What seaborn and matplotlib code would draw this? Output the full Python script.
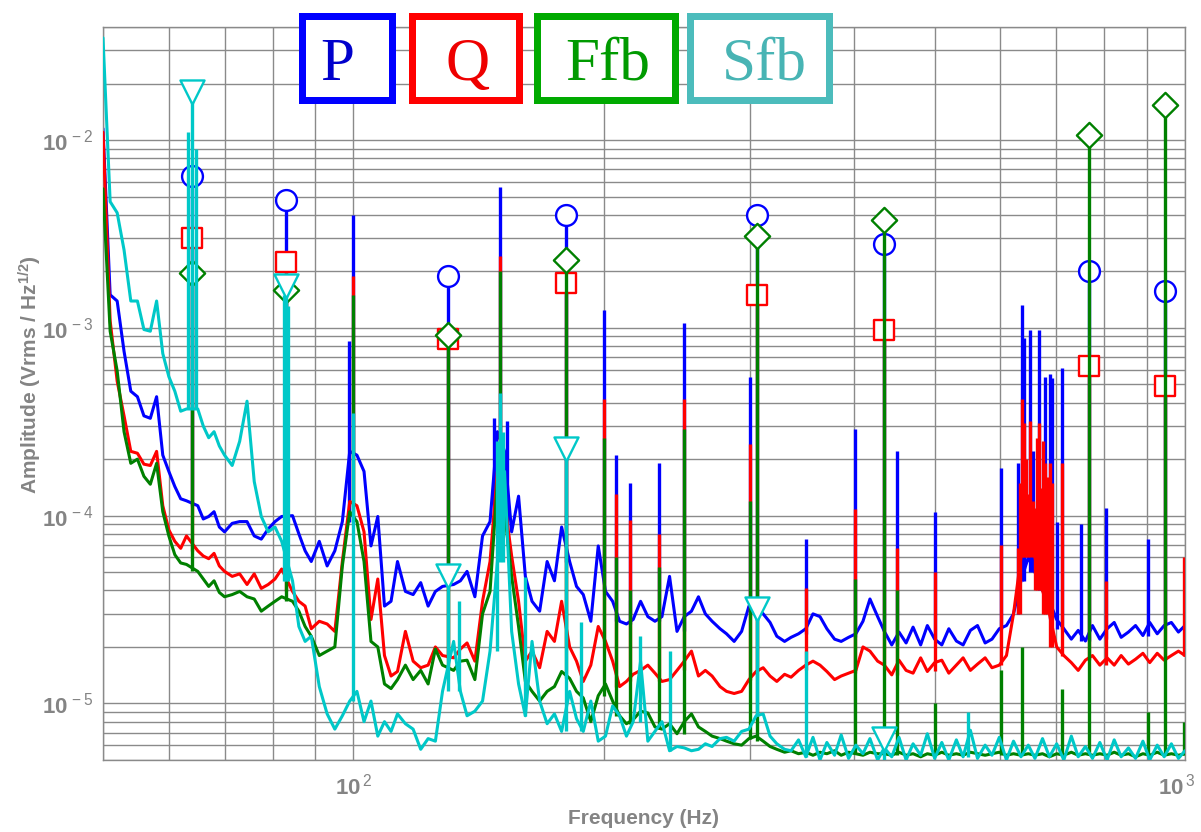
import numpy as np
import matplotlib
matplotlib.use("Agg")
import matplotlib.pyplot as plt
import matplotlib.transforms as mtransforms
import seaborn as sns
from matplotlib.patches import Rectangle
from matplotlib.ticker import LogLocator, NullFormatter, FixedLocator, FixedFormatter

# ---------------------------------------------------------------- data
# shared frequency axis of the broadband traces (Hz)
freq_hz = [
    50, 51, 52, 53, 54, 55, 56, 57, 58, 59,
    60, 61, 62, 63, 65, 66, 67, 68, 69, 70,
    71.5, 73, 74.5, 76, 77.5, 79, 80.5, 82, 84.5, 86,
    87.5, 89, 91, 93, 95, 97, 99, 101, 103, 105,
    107, 109, 111, 113, 115.5, 118, 120.5, 123, 125.5, 128,
    132, 134.5, 137, 140, 143, 146, 149, 152, 155, 158,
    161, 164, 167.5, 171, 174.5, 178, 182, 185.5, 189, 193,
    197, 201, 205, 209, 213, 217, 221.5, 226, 230.5, 235,
    240, 245, 250, 255, 260, 265, 270, 276, 281, 287,
    293, 299, 305, 311, 317, 323, 330, 336, 343, 350,
    357, 364, 371, 379, 386, 394, 402, 410, 418, 427,
    435, 444, 453, 462, 471, 481, 490, 500, 510, 520,
    531, 541, 552, 563, 575, 586, 598, 610, 622, 635,
    648, 660, 674, 687, 701, 715, 730, 744, 759, 774,
    790, 806, 822, 838, 855, 872, 890, 907, 926, 944,
    963, 982, 1000,
]

# broadband amplitude of each channel (Vrms/sqrt(Hz))
p_amp = [
    1.15e-2, 1.5e-3, 1.39e-3, 7.5e-4, 4.6e-4, 4.3e-4, 3.4e-4, 3.3e-4, 4.3e-4, 2.1e-4,
    1.72e-4, 1.43e-4, 1.23e-4, 1.2e-4, 1.13e-4, 9.6e-5, 9.9e-5, 1.05e-4, 8.7e-5, 8.2e-5,
    9.1e-5, 9.3e-5, 9.3e-5, 7.8e-5, 7.5e-5, 8.5e-5, 9.3e-5, 9.9e-5, 1.0e-4, 8.0e-5,
    6.5e-5, 5.7e-5, 7.3e-5, 5.4e-5, 6.5e-5, 9.3e-5, 2.2e-4, 2.1e-4, 1.72e-4, 6.9e-5,
    9.9e-5, 3.3e-5, 3.5e-5, 5.7e-5, 3.95e-5, 3.8e-5, 4.4e-5, 3.3e-5, 3.95e-5, 4.2e-5,
    4.3e-5, 4.5e-5, 5.05e-5, 3.7e-5, 7.8e-5, 9.3e-5, 2.8e-4, 2.2e-4, 8.2e-5, 1.27e-4,
    4.75e-5, 3.5e-5, 3.1e-5, 5.7e-5, 4.5e-5, 8.7e-5, 5.7e-5, 4.2e-5, 3.8e-5, 2.74e-5,
    6.9e-5, 3.95e-5, 3.5e-5, 2.74e-5, 2.65e-5, 2.8e-5, 3.5e-5, 2.9e-5, 2.74e-5, 2.9e-5,
    4.75e-5, 2.42e-5, 2.9e-5, 3.1e-5, 3.7e-5, 3.0e-5, 2.74e-5, 2.5e-5, 2.35e-5, 2.14e-5,
    2.42e-5, 3.3e-5, 3.3e-5, 3.0e-5, 2.7e-5, 2.28e-5, 2.14e-5, 2.25e-5, 2.35e-5, 2.5e-5,
    3.0e-5, 2.9e-5, 2.5e-5, 2.2e-5, 2.14e-5, 2.25e-5, 2.35e-5, 2.74e-5, 3.6e-5, 2.9e-5,
    2.42e-5, 2.05e-5, 2.4e-5, 2.1e-5, 2.55e-5, 2.05e-5, 2.6e-5, 2.2e-5, 2.05e-5, 2.5e-5,
    2.15e-5, 2.05e-5, 2.45e-5, 2.6e-5, 2.1e-5, 2.2e-5, 2.5e-5, 2.6e-5, 3.0e-5, 4.5e-5,
    6.0e-5, 5.0e-5, 4.0e-5, 3.5e-5, 2.8e-5, 2.5e-5, 2.2e-5, 2.45e-5, 2.15e-5, 2.6e-5,
    2.2e-5, 2.5e-5, 2.7e-5, 2.25e-5, 2.4e-5, 2.6e-5, 2.3e-5, 2.7e-5, 2.35e-5, 2.6e-5,
    2.7e-5, 2.4e-5, 2.6e-5,
]
q_amp = [
    1.1e-2, 1.09e-3, 5.2e-4, 3.4e-4, 2.2e-4, 2.15e-4, 1.88e-4, 1.85e-4, 2.2e-4, 1.13e-4,
    8.4e-5, 7.3e-5, 6.7e-5, 7.8e-5, 6.5e-5, 6.1e-5, 5.9e-5, 6.3e-5, 5.4e-5, 5.05e-5,
    4.75e-5, 4.9e-5, 4.3e-5, 4.9e-5, 4.1e-5, 4.3e-5, 4.6e-5, 5.2e-5, 3.95e-5, 3.5e-5,
    3.3e-5, 2.5e-5, 2.74e-5, 2.65e-5, 2.42e-5, 5.7e-5, 1.19e-4, 1.13e-4, 8.2e-5, 2.8e-5,
    4.6e-5, 1.8e-5, 1.4e-5, 1.48e-5, 2.42e-5, 1.68e-5, 1.55e-5, 1.6e-5, 2.0e-5, 1.8e-5,
    1.75e-5, 1.95e-5, 2.1e-5, 1.68e-5, 3.5e-5, 5.7e-5, 1.72e-4, 1.19e-4, 6.1e-5, 3.5e-5,
    1.68e-5, 1.9e-5, 1.55e-5, 2.42e-5, 2.14e-5, 3.5e-5, 2.0e-5, 1.68e-5, 1.31e-5, 1.6e-5,
    2.57e-5, 2.14e-5, 1.68e-5, 1.23e-5, 1.31e-5, 1.43e-5, 1.5e-5, 1.6e-5, 1.45e-5, 1.31e-5,
    1.34e-5, 1.5e-5, 1.68e-5, 1.9e-5, 1.4e-5, 1.5e-5, 1.4e-5, 1.23e-5, 1.16e-5, 1.13e-5,
    1.16e-5, 1.34e-5, 1.48e-5, 1.55e-5, 1.4e-5, 1.31e-5, 1.43e-5, 1.38e-5, 1.5e-5, 1.6e-5,
    1.68e-5, 1.6e-5, 1.48e-5, 1.34e-5, 1.4e-5, 1.45e-5, 1.5e-5, 2.0e-5, 1.9e-5, 1.68e-5,
    1.6e-5, 1.42e-5, 1.7e-5, 1.5e-5, 1.45e-5, 1.75e-5, 1.48e-5, 1.65e-5, 1.7e-5, 1.45e-5,
    1.6e-5, 1.75e-5, 1.5e-5, 1.62e-5, 1.75e-5, 1.55e-5, 1.6e-5, 1.8e-5, 3.0e-5, 6.0e-5,
    8.0e-5, 6.0e-5, 4.0e-5, 3.0e-5, 2.0e-5, 1.8e-5, 1.65e-5, 1.5e-5, 1.7e-5, 1.8e-5,
    1.6e-5, 1.75e-5, 1.6e-5, 1.8e-5, 1.62e-5, 1.72e-5, 1.85e-5, 1.65e-5, 1.85e-5, 1.7e-5,
    1.8e-5, 1.9e-5, 1.8e-5,
]
ffb_amp = [
    5.5e-3, 9.6e-4, 5.9e-4, 2.8e-4, 1.9e-4, 2.0e-4, 1.62e-4, 1.47e-4, 1.9e-4, 1.05e-4,
    7.8e-5, 6.2e-5, 5.6e-5, 5.5e-5, 5.05e-5, 4.6e-5, 4.2e-5, 4.5e-5, 3.9e-5, 3.7e-5,
    3.8e-5, 3.95e-5, 3.7e-5, 3.6e-5, 3.1e-5, 3.3e-5, 3.5e-5, 3.7e-5, 3.5e-5, 3.1e-5,
    2.57e-5, 2.28e-5, 1.8e-5, 1.9e-5, 2.0e-5, 5.4e-5, 1.05e-4, 9.3e-5, 5.7e-5, 2.14e-5,
    2.0e-5, 1.27e-5, 1.2e-5, 1.34e-5, 1.6e-5, 1.34e-5, 1.5e-5, 1.27e-5, 1.95e-5, 1.6e-5,
    1.5e-5, 1.68e-5, 1.7e-5, 1.34e-5, 3.0e-5, 3.95e-5, 1.52e-4, 1.05e-4, 4.75e-5, 2.57e-5,
    1.31e-5, 1.16e-5, 1.03e-5, 1.16e-5, 1.23e-5, 1.48e-5, 1.36e-5, 1.16e-5, 1.07e-5, 8.0e-6,
    1.1e-5, 1.27e-5, 1.03e-5, 8.6e-6, 7.8e-6, 8.2e-6, 9.1e-6, 8.9e-6, 7.5e-6, 7.3e-6,
    7.8e-6, 6.9e-6, 8.0e-6, 8.8e-6, 7.5e-6, 7.1e-6, 6.7e-6, 6.5e-6, 6.3e-6, 6.1e-6,
    6.0e-6, 6.5e-6, 6.7e-6, 6.3e-6, 5.9e-6, 5.7e-6, 5.5e-6, 5.6e-6, 5.4e-6, 5.5e-6,
    5.3e-6, 5.5e-6, 5.4e-6, 5.6e-6, 5.3e-6, 5.5e-6, 5.4e-6, 5.3e-6, 5.5e-6, 5.4e-6,
    5.4e-6, 5.3e-6, 5.5e-6, 5.3e-6, 5.4e-6, 5.2e-6, 5.4e-6, 5.3e-6, 5.5e-6, 5.3e-6,
    5.4e-6, 5.3e-6, 5.5e-6, 5.4e-6, 5.3e-6, 5.4e-6, 5.5e-6, 5.3e-6, 5.4e-6, 5.3e-6,
    5.4e-6, 5.3e-6, 5.4e-6, 5.2e-6, 5.4e-6, 5.3e-6, 5.5e-6, 5.3e-6, 5.4e-6, 5.3e-6,
    5.4e-6, 5.3e-6, 5.5e-6, 5.3e-6, 5.4e-6, 5.2e-6, 5.4e-6, 5.3e-6, 5.5e-6, 5.3e-6,
    5.4e-6, 5.3e-6, 5.4e-6,
]
sfb_amp = [
    3.5e-2, 4.7e-3, 4.1e-3, 2.6e-3, 1.39e-3, 1.39e-3, 9.8e-4, 9.6e-4, 1.39e-3, 7.3e-4,
    5.5e-4, 4.6e-4, 3.6e-4, 3.7e-4, 3.7e-4, 3.0e-4, 2.6e-4, 2.8e-4, 2.35e-4, 2.1e-4,
    1.85e-4, 2.49e-4, 4.07e-4, 1.52e-4, 9.9e-5, 8.2e-5, 8.7e-5, 7.3e-5, 4.5e-5, 2.57e-5,
    2.14e-5, 2.28e-5, 1.23e-5, 8.8e-6, 7.3e-6, 8.6e-6, 1.03e-5, 1.16e-5, 8.0e-6, 1.03e-5,
    6.7e-6, 8.0e-6, 7.1e-6, 8.8e-6, 7.8e-6, 7.3e-6, 5.7e-6, 6.5e-6, 6.3e-6, 1.16e-5,
    2.14e-5, 1.16e-5, 8.6e-6, 9.1e-6, 1.03e-5, 1.9e-5, 5.7e-5, 1.72e-4, 2.42e-5, 1.27e-5,
    8.6e-6, 2.14e-5, 1.03e-5, 7.8e-6, 8.8e-6, 7.1e-6, 1.16e-5, 8.3e-6, 7.1e-6, 1.03e-5,
    6.3e-6, 6.7e-6, 9.7e-6, 8.6e-6, 6.7e-6, 8.0e-6, 1.68e-5, 6.3e-6, 7.1e-6, 8.0e-6,
    5.6e-6, 5.9e-6, 5.8e-6, 5.6e-6, 5.7e-6, 6.1e-6, 5.9e-6, 6.5e-6, 6.6e-6, 6.3e-6,
    7.1e-6, 7.3e-6, 8.6e-6, 8.8e-6, 6.7e-6, 6.1e-6, 5.7e-6, 5.6e-6, 6.4e-6, 5.2e-6,
    6.6e-6, 5.0e-6, 6.2e-6, 5.3e-6, 6.8e-6, 5.1e-6, 6.0e-6, 5.4e-6, 6.5e-6, 5.0e-6,
    5.8e-6, 5.2e-6, 6.6e-6, 5.0e-6, 6.1e-6, 5.3e-6, 6.9e-6, 5.1e-6, 6.2e-6, 5.0e-6,
    6.4e-6, 5.2e-6, 7.2e-6, 5.1e-6, 6.0e-6, 5.3e-6, 6.6e-6, 5.0e-6, 6.3e-6, 5.2e-6,
    6.0e-6, 5.1e-6, 6.5e-6, 5.2e-6, 6.1e-6, 5.0e-6, 6.7e-6, 5.2e-6, 5.9e-6, 5.1e-6,
    6.2e-6, 5.0e-6, 6.4e-6, 5.2e-6, 5.8e-6, 5.1e-6, 6.3e-6, 5.0e-6, 6.0e-6, 5.2e-6,
    6.1e-6, 5.1e-6, 5.6e-6,
]

# marked harmonics: frequency and peak amplitude per channel
harm_freq = [64, 83, 130, 180, 306, 435, 767, 946]
p_harm = [6.4e-3, 4.8e-3, 1.9e-3, 4.0e-3, 4.0e-3, 2.8e-3, 2.0e-3, 1.57e-3]
q_harm = [3.0e-3, 2.25e-3, 8.7e-4, 1.73e-3, 1.5e-3, 9.8e-4, 6.3e-4, 4.9e-4]
ffb_harm = [1.95e-3, 1.6e-3, 9.2e-4, 2.3e-3, 3.1e-3, 3.75e-3, 1.06e-2, 1.53e-2]
sfb_harm = [1.8e-2, 1.67e-3, 4.75e-5, 2.26e-4, 3.2e-5, 6.5e-6]

# other narrow lines (frequency, peak amplitude)
p_line_freq = [98.8, 100, 147.5, 150, 153, 200, 207, 215, 233, 250, 300, 350, 401, 451,
               500, 601, 630, 637, 641, 651, 657, 668, 679, 688, 692, 702, 712, 750, 804, 903]
p_line_amp = [8.5e-4, 4.0e-3, 3.3e-4, 5.6e-3, 3.2e-4, 1.25e-3, 2.1e-4, 1.5e-4, 1.9e-4, 1.06e-3,
              5.5e-4, 7.5e-5, 2.9e-4, 2.2e-4, 1.05e-4, 1.8e-4, 1.9e-4, 1.33e-3, 8.8e-4, 9.8e-4,
              2.2e-4, 9.8e-4, 5.5e-4, 5.7e-4, 5.4e-4, 9.3e-5, 6.1e-4, 9.0e-5, 1.1e-4, 7.5e-5]
q_line_freq = [100, 150, 200, 207, 215, 233, 250, 300, 350, 401, 451, 500, 601, 630, 634,
               637, 641, 644, 647, 651, 657, 661, 664, 668, 672, 675, 679, 683, 688, 692,
               712, 804, 997]
q_line_amp = [1.9e-3, 2.4e-3, 4.2e-4, 1.3e-4, 9.5e-5, 8.0e-5, 4.2e-4, 2.4e-4, 4.1e-5, 1.08e-4,
              6.7e-5, 5.0e-5, 7.0e-5, 6.7e-5, 1.5e-4, 4.2e-4, 3.1e-4, 2.0e-4, 1.3e-4, 3.2e-4,
              1.2e-4, 1.1e-4, 2.6e-4, 3.1e-4, 1.4e-4, 2.5e-4, 1.9e-4, 1.6e-4, 1.9e-4, 1.5e-4,
              1.9e-4, 4.5e-5, 6.0e-5]
ffb_line_freq = [100, 150, 200, 207, 215, 233, 250, 300, 401, 451, 500, 601, 637, 712, 903, 997]
ffb_line_amp = [1.5e-3, 2.0e-3, 2.6e-4, 6.0e-5, 4.0e-5, 5.3e-5, 2.9e-4, 1.2e-4, 4.6e-5, 4.0e-5,
                1.0e-5, 1.5e-5, 2.0e-5, 1.2e-5, 9.0e-6, 8.0e-6]
sfb_line_freq = [63.3, 64.7, 82.5, 83.5, 100, 134, 149, 150, 151.5, 161, 188, 221, 240, 350, 548]
sfb_line_amp = [1.1e-2, 9.0e-3, 1.5e-3, 1.3e-3, 3.5e-4, 3.5e-5, 2.5e-4, 4.5e-4, 2.8e-4, 4.7e-5,
                2.7e-5, 2.3e-5, 1.9e-5, 1.9e-5, 9.0e-6]

channel_names = ["P", "Q", "Ffb", "Sfb"]

# ---------------------------------------------------------------- style
sns.set_theme(style="white")
plt.rcParams.update({
    "font.family": ["Liberation Sans", "DejaVu Sans"],
    "mathtext.fontset": "custom",
    "mathtext.rm": "Liberation Sans",
    "mathtext.bf": "Liberation Sans:bold",
    "mathtext.it": "Liberation Sans:italic",
})

GRID = "#8a8a8a"
TEXT = "#848484"
line_colors = ["#0000ff", "#ff0000", "#008000", "#00c8c8"]
marker_styles = [("o", 225), ("s", 190), ("D", 165), ("v", 300)]
legend_text_colors = ["#0000cc", "#ee0000", "#009a00", "#48b4b4"]
legend_box_colors = ["#0000ff", "#ff0000", "#00aa00", "#4cbcbc"]


def decade_label(exp):
    # bold mantissa with a lifted, slightly detached exponent
    return r"$\mathbf{10}^{\,%s}$" % exp


W, H = 1201, 832
fig = plt.figure(figsize=(W / 100, H / 100), dpi=100)
ax = fig.add_axes([103 / W, 72 / H, 1082 / W, 733 / H])
ax.set_xscale("log")
ax.set_yscale("log")
ax.set_xlim(50, 1000)
ax.set_ylim(5e-6, 4e-2)

# grid on every decade and sub-decade
ax.xaxis.set_major_locator(FixedLocator([100, 1000]))
ax.xaxis.set_major_formatter(FixedFormatter([decade_label("2"), decade_label("3")]))
ax.xaxis.set_minor_locator(LogLocator(base=10, subs=np.arange(2, 10), numticks=50))
ax.xaxis.set_minor_formatter(NullFormatter())
ax.yaxis.set_major_locator(FixedLocator([1e-5, 1e-4, 1e-3, 1e-2]))
ax.yaxis.set_major_formatter(FixedFormatter(
    [decade_label("-5"), decade_label("-4"), decade_label("-3"), decade_label("-2")]))
ax.yaxis.set_minor_locator(LogLocator(base=10, subs=np.arange(2, 10), numticks=50))
ax.yaxis.set_minor_formatter(NullFormatter())
ax.grid(True, which="both", color=GRID, linewidth=1.0)
ax.set_axisbelow(True)
ax.tick_params(which="both", length=0, labelsize=16, labelcolor=TEXT)
ax.tick_params(axis="y", pad=7)
ax.tick_params(axis="x", pad=10)
for sp in ax.spines.values():
    sp.set_color(GRID)
    sp.set_linewidth(1.0)

# ---------------------------------------------------------------- traces
channels = [
    (p_amp, p_harm, p_line_freq, p_line_amp),
    (q_amp, q_harm, q_line_freq, q_line_amp),
    (ffb_amp, ffb_harm, ffb_line_freq, ffb_line_amp),
    (sfb_amp, sfb_harm, sfb_line_freq, sfb_line_amp),
]
f_arr = np.asarray(freq_hz, dtype=float)

for k, (amp, harm, lf, la) in enumerate(channels):
    z = 2 + k
    col = line_colors[k]
    amp_arr = np.asarray(amp, dtype=float)
    sns.lineplot(x=f_arr, y=amp_arr, ax=ax, color=col, linewidth=2.2,
                 estimator=None, legend=False, zorder=z)

    # narrow lines rise from the lower of the two neighbouring trace samples
    spike_f = np.asarray(list(lf) + harm_freq[:len(harm)], dtype=float)
    spike_a = np.asarray(list(la) + list(harm), dtype=float)
    hi = np.clip(np.searchsorted(f_arr, spike_f), 1, len(f_arr) - 1)
    base = np.minimum(amp_arr[hi - 1], amp_arr[hi])
    ax.vlines(spike_f, base, spike_a, colors=col, linewidth=2.4, zorder=z)

    m, s = marker_styles[k]
    sns.scatterplot(x=harm_freq[:len(harm)], y=harm, ax=ax, marker=m, s=s,
                    color="white", edgecolor=col, linewidth=1.7,
                    legend=False, zorder=z + 0.5)

# keep the rightmost decade label inside the canvas
fig.canvas.draw()
last_label = ax.xaxis.get_majorticklabels()[-1]
last_label.set_transform(last_label.get_transform() +
                         mtransforms.ScaledTranslation(-8 / 100, 0, fig.dpi_scale_trans))

# ---------------------------------------------------------------- labels
fig.text(644 / W, 1 - 818 / H, "Frequency (Hz)", ha="center", va="center",
         fontsize=15, fontweight="bold", color=TEXT)
fig.text(30 / W, 1 - 375 / H, r"Amplitude (Vrms / Hz$^{\mathbf{1/2}}$)",
         ha="center", va="center", rotation=90, fontsize=15,
         fontweight="bold", color=TEXT)

# ---------------------------------------------------------------- boxed channel key
box_edges = [(298, 395), (408, 522), (533, 678), (686, 832)]
text_centres = [337, 468, 608, 764]
box_top, box_bottom, box_lw_px = 13, 103, 7
for name, (x0, x1), xc, ec, tc in zip(channel_names, box_edges, text_centres,
                                       legend_box_colors, legend_text_colors):
    h = box_lw_px / 2
    rect = Rectangle(((x0 + h) / W, 1 - (box_bottom - h) / H),
                     (x1 - x0 - box_lw_px) / W, (box_bottom - box_top - box_lw_px) / H,
                     transform=fig.transFigure, facecolor="white", edgecolor=ec,
                     linewidth=box_lw_px * 0.72, zorder=20)
    fig.add_artist(rect)
    fig.text(xc / W, 1 - 80 / H, name, ha="center", va="baseline",
             fontsize=44, family="Liberation Serif", color=tc, zorder=21)

fig.savefig("out.png", dpi=100)
